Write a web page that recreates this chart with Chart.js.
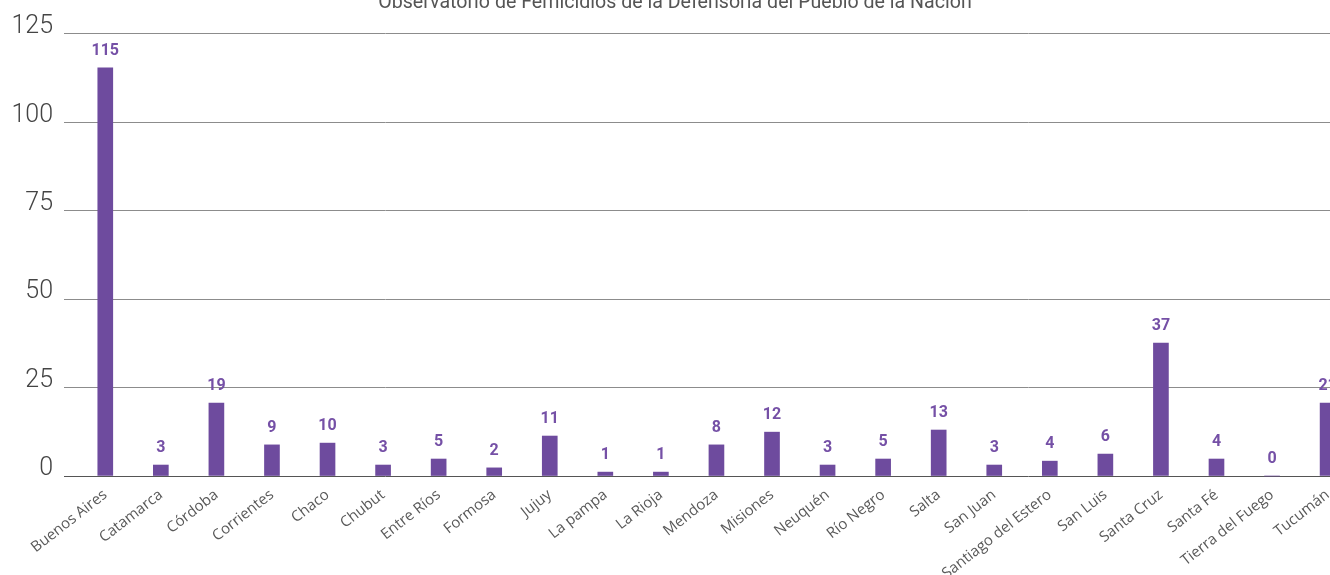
<!DOCTYPE html>
<html>
<head>
<meta charset="utf-8">
<script src="https://cdn.jsdelivr.net/npm/chart.js@4"></script>
<style>
  html, body { margin: 0; padding: 0; overflow: hidden; background: #fff; width: 1330px; height: 575px; }
  #wrap { position: absolute; left: 0; top: -10px; width: 1350px; height: 600px; }
</style>
</head>
<body>
<div id="wrap"><canvas id="c" width="1350" height="600"></canvas></div>
<script>
const titleText = 'Observatorio de Femicidios de la Defensoría del Pueblo de la Nación';
const categories = ['Buenos Aires','Catamarca','Córdoba','Corrientes','Chaco','Chubut','Entre Ríos','Formosa','Jujuy','La pampa','La Rioja','Mendoza','Misiones','Neuquén','Río Negro','Salta','San Juan','Santiago del Estero','San Luis','Santa Cruz','Santa Fé','Tierra del Fuego','Tucumán'];
const barValues = [115.4, 3.1, 20.6, 8.8, 9.3, 3.1, 4.8, 2.3, 11.3, 1.1, 1.1, 8.8, 12.4, 3.1, 4.8, 13.0, 3.1, 4.2, 6.2, 37.6, 4.8, 0, 20.6];
const valueLabels = [115, 3, 19, 9, 10, 3, 5, 2, 11, 1, 1, 8, 12, 3, 5, 13, 3, 4, 6, 37, 4, 0, 21];
const yTickValues = [0, 25, 50, 75, 100, 125];

const valueLabelPlugin = {
  id: 'valueLabels',
  afterDatasetsDraw(chart) {
    const meta = chart.getDatasetMeta(0);
    const ctx = chart.ctx;
    ctx.save();
    ctx.font = '700 16px Roboto';
    ctx.fillStyle = '#7550a6';
    ctx.textAlign = 'center';
    ctx.textBaseline = 'bottom';
    meta.data.forEach((bar, i) => {
      ctx.fillText(String(valueLabels[i]), bar.x, bar.y - 9);
    });
    ctx.restore();
  }
};

new Chart(document.getElementById('c'), {
  type: 'bar',
  data: {
    datasets: [{
      data: categories.map((c, i) => ({ x: i, y: barValues[i] })),
      backgroundColor: '#6e4b9e',
      barThickness: 15,
      clip: false
    }]
  },
  options: {
    responsive: false,
    animation: false,
    devicePixelRatio: 1,
    layout: { padding: { left: 0, right: 0, top: 0, bottom: 0 } },
    plugins: {
      legend: { display: false },
      tooltip: { enabled: false },
      title: {
        display: true,
        text: titleText,
        color: '#555',
        font: { family: 'Roboto', size: 19.6, weight: '400' },
        padding: { top: 1, bottom: 19.4 }
      }
    },
    scales: {
      x: {
        type: 'linear',
        offset: false,
        min: -0.743,
        max: 22.403,
        grid: { display: false, offset: false },
        border: { display: false },
        afterBuildTicks(scale) {
          scale.ticks = categories.map((c, i) => ({ value: i }));
        },
        afterFit(scale) {
          scale.height = 114;
          scale.paddingLeft = 0;
          scale.paddingRight = 0;
        },
        ticks: {
          autoSkip: false,
          minRotation: 38,
          maxRotation: 38,
          padding: 2,
          color: '#595959',
          font: { family: 'Open Sans', size: 15 },
          callback: (v) => categories[v]
        }
      },
      y: {
        min: 0,
        max: 125,
        afterBuildTicks(scale) {
          scale.ticks = yTickValues.map(v => ({ value: v }));
        },
        afterFit(scale) {
          scale.width = 64;
          scale.paddingTop = 0;
          scale.paddingBottom = 0;
        },
        border: { display: false },
        grid: {
          drawTicks: false,
          tickLength: 0,
          lineWidth: 1,
          color: (ctx) => ctx.tick && ctx.tick.value === 0 ? '#555' : '#8c8c8c'
        },
        ticks: {
          padding: 11,
          labelOffset: -7,
          color: '#444',
          font: { family: 'Roboto', size: 25, weight: '300' }
        }
      }
    }
  },
  plugins: [valueLabelPlugin]
});
</script>
</body>
</html>
